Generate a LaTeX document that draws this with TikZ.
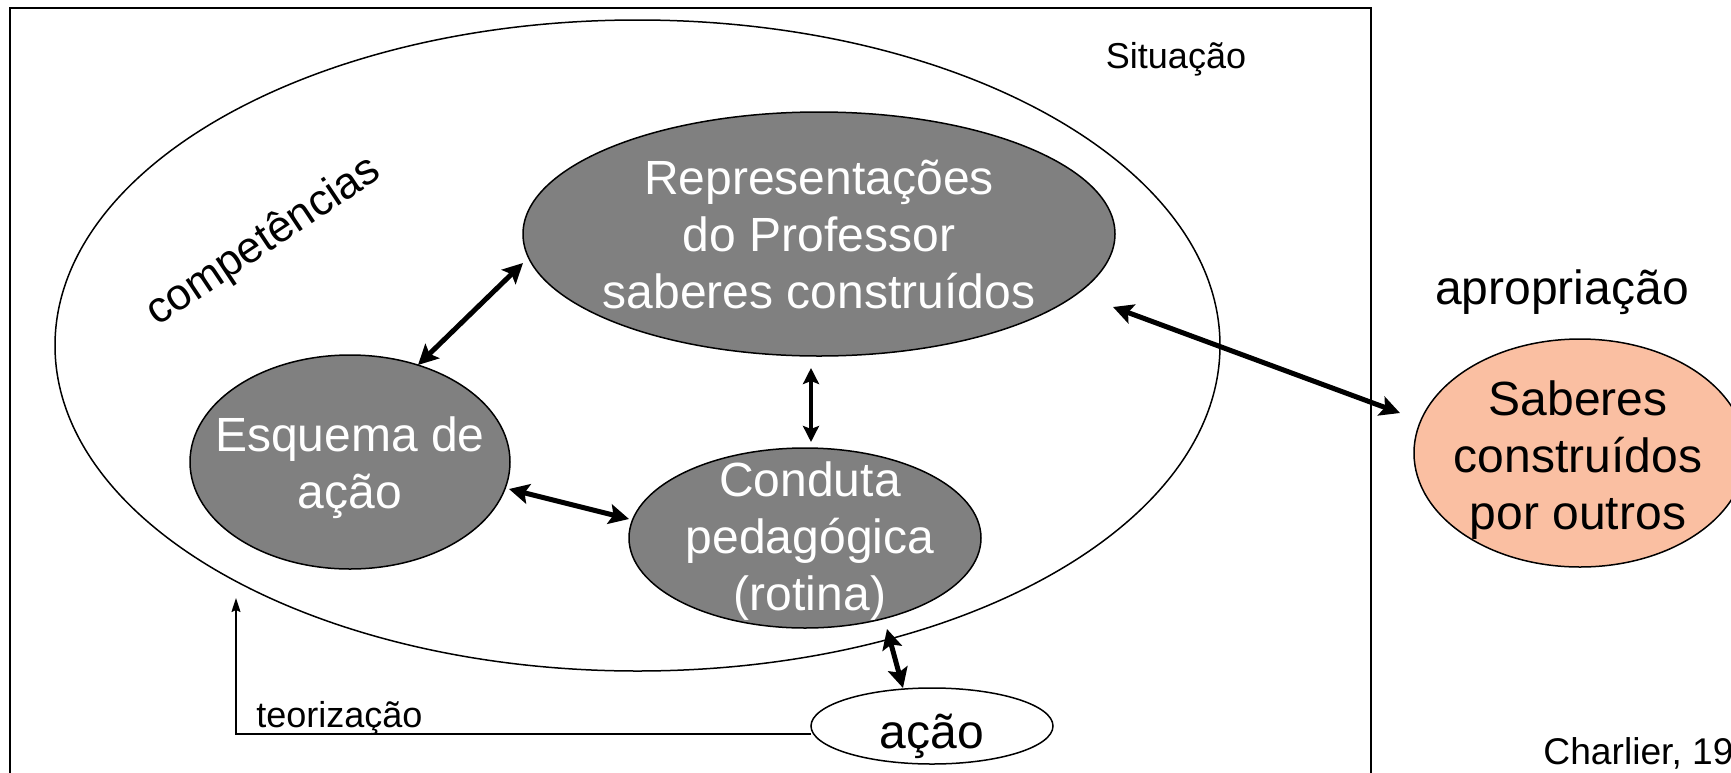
\documentclass[tikz,border=0pt]{standalone}
\usepackage{fontspec}
\setmainfont{Liberation Sans}
\usetikzlibrary{shapes.geometric,arrows.meta}
\definecolor{peach}{RGB}{250,191,162}
\definecolor{midgray}{RGB}{128,128,128}
\tikzset{
  frameline/.style={draw,line width=1pt},
  ovalbase/.style={ellipse,draw,line width=0.75pt,inner sep=0pt,outer sep=0pt},
  grayoval/.style={ovalbase,fill=midgray},
  peachoval/.style={ovalbase,fill=peach},
  whiteoval/.style={ovalbase,fill=white},
  bigtxt/.style={inner sep=0pt,align=center,font={\fontsize{24}{28.5}\selectfont}},
  smalltxt/.style={inner sep=0pt,font={\fontsize{18}{21}\selectfont}},
  thickarrow/.style={line width=2.5pt,{Stealth[length=10pt,width=10pt,inset=2pt]}-{Stealth[length=10pt,width=10pt,inset=2pt]}},
  midarrow/.style={line width=2pt,{Stealth[length=8pt,width=8pt,inset=1.5pt]}-{Stealth[length=8pt,width=8pt,inset=1.5pt]}},
  thinarrow/.style={line width=0.7pt,-{Stealth[length=7pt,width=4.5pt,inset=1pt]}}
}
\begin{document}
\begin{tikzpicture}[x=0.5pt,y=-0.5pt]
\useasboundingbox (0,0) rectangle (1731,772);
\clip (0,0) rectangle (1731,772);
% frame (open at the bottom)
\draw[frameline] (10,780) -- (10,8) -- (1371,8) -- (1371,780);
% big ellipse
\node[ovalbase,minimum width=582.5pt,minimum height=325.5pt] (big) at (637.5,345.5) {};
% inner ellipses
\node[grayoval,minimum width=296pt,minimum height=122pt] (rep) at (819,234) {};
\node[grayoval,minimum width=160pt,minimum height=107pt] (esq) at (350,462) {};
\node[grayoval,minimum width=176pt,minimum height=90pt] (cond) at (805,538) {};
\node[peachoval,minimum width=166pt,minimum height=114pt] (sab) at (1580,453) {};
\node[whiteoval,minimum width=121pt,minimum height=38pt] (acao) at (932,726) {};
% texts
\node[bigtxt,text=white] (reptxt) at (819,235) {Representações\\do Professor\\saberes construídos};
\node[bigtxt,text=white] (esqtxt) at (350,468) {Esquema de\\ação};
\node[bigtxt,text=white] (condtxt) at (810,541) {Conduta\\pedagógica\\(rotina)};
\node[bigtxt] (sabtxt) at (1578,460) {Saberes\\construídos\\por outros};
\node[bigtxt] (acaotxt) at (932,736) {ação};
\node[bigtxt,anchor=base] (apr) at (1562,304) {apropriação};
\node[smalltxt,anchor=base] (sit) at (1176,68) {Situação};
\node[smalltxt,anchor=base west] (teo) at (256,727) {teorização};
\node[inner sep=0pt,anchor=base west,font={\fontsize{18.6}{21}\selectfont}] (cite) at (1543,764) {Charlier, 19};
\node[inner sep=0pt,font={\fontsize{22}{26}\selectfont},rotate=33.7] (comp) at (264,242) {competências};
% connectors
\draw[thickarrow] ([shift={(-296,29)}]rep.center) -- ([shift={(68,-97)}]esq.center);
\draw[midarrow] ([shift={(-8,134)}]rep.center) -- ([shift={(6,-96)}]cond.center);
\draw[thickarrow] ([shift={(159,27)}]esq.center) -- ([shift={(-176,-19)}]cond.center);
\draw[thickarrow] ([shift={(294,73)}]rep.center) -- ([shift={(-180,-40)}]sab.center);
\draw[thickarrow] ([shift={(82,91)}]cond.center) -- ([shift={(-29,-38)}]acao.center);
\coordinate (teotop) at (236,598);
\draw[thinarrow] ([shift={(-121,8)}]acao.center) -| (teotop);
\end{tikzpicture}
\end{document}
